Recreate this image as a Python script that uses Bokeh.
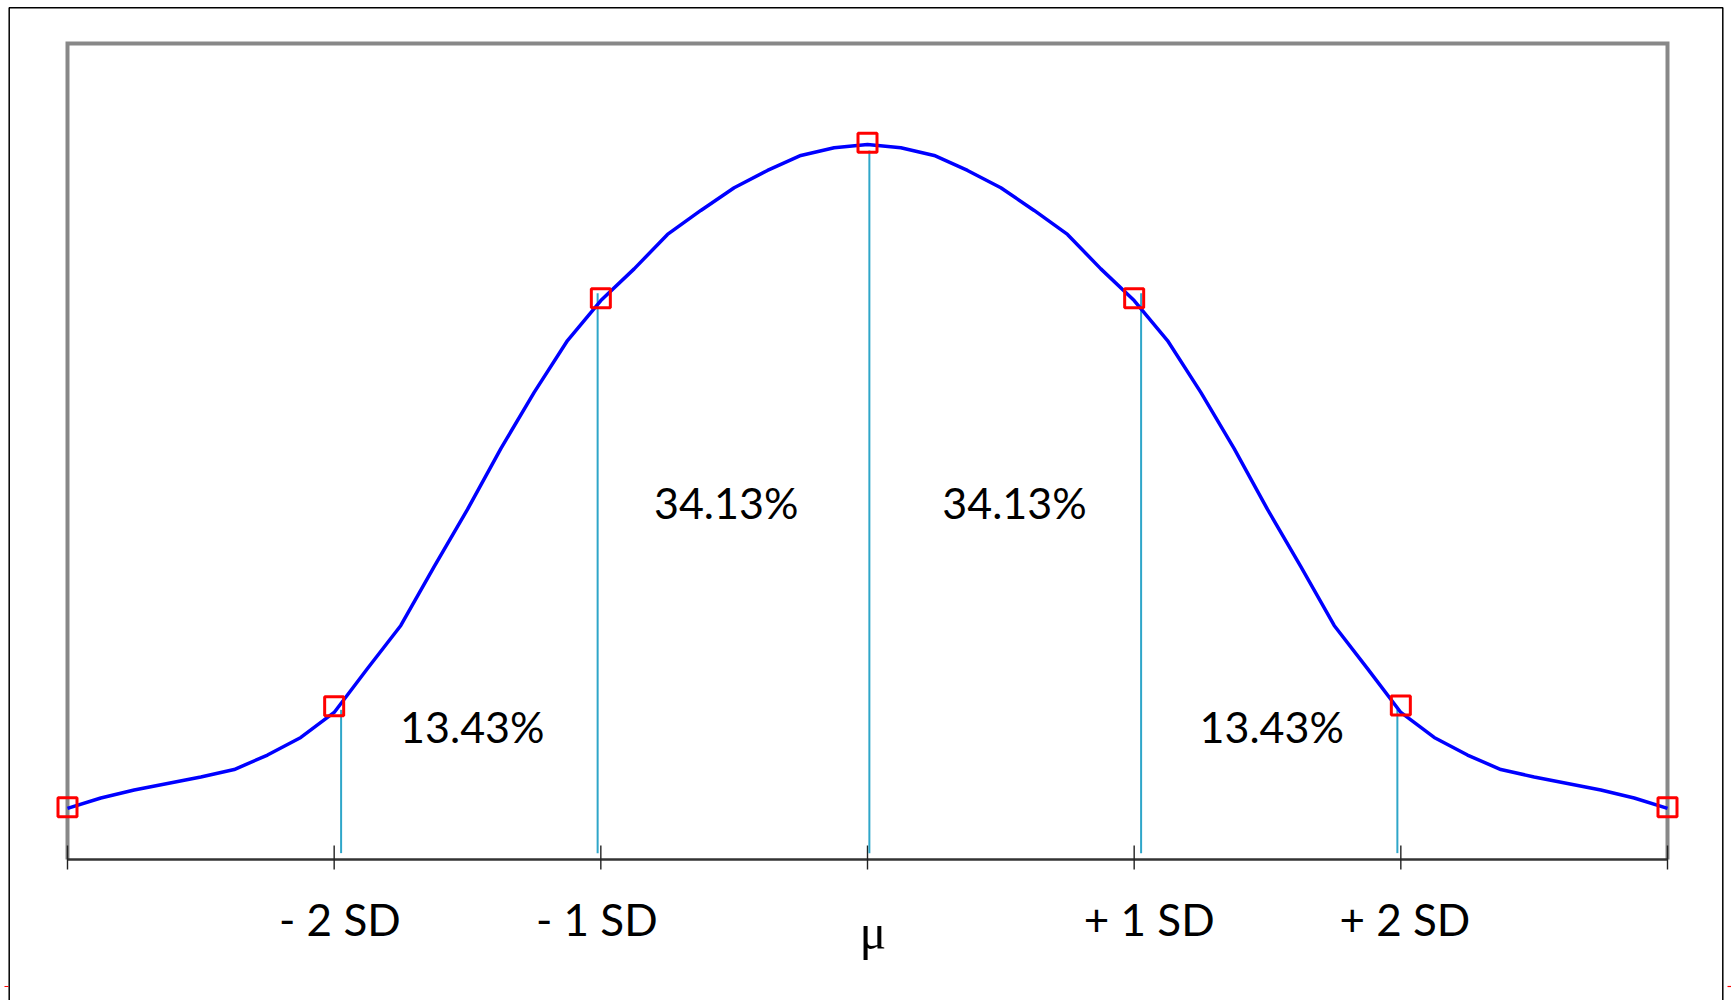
from bokeh.plotting import figure
from bokeh.models import Range1d, ColumnDataSource
from bokeh.core.properties import value
from bokeh.embed import file_html
from bokeh.resources import INLINE

# ---------------- data ----------------
sd_positions = [-3, -2, -1, 0, 1, 2, 3]
tick_labels = ["", "- 2 SD", "- 1 SD", "\u03bc", "+ 1 SD", "+ 2 SD", ""]

curve_x = [-3.0, -2.875, -2.75, -2.625, -2.5, -2.375, -2.25, -2.125,
           -2.0, -1.875, -1.75, -1.625, -1.5, -1.375, -1.25, -1.125,
           -1.0, -0.875, -0.75, -0.625, -0.5, -0.375, -0.25, -0.125,
           0.0, 0.125, 0.25, 0.375, 0.5, 0.625, 0.75, 0.875,
           1.0, 1.125, 1.25, 1.375, 1.5, 1.625, 1.75, 1.875,
           2.0, 2.125, 2.25, 2.375, 2.5, 2.625, 2.75, 2.875, 3.0]
curve_y = [0.0313, 0.0377, 0.0426, 0.0466, 0.0506, 0.0551, 0.0640, 0.0748,
           0.0901, 0.1170, 0.1434, 0.1795, 0.2145, 0.2518, 0.2862, 0.3180,
           0.3425, 0.3619, 0.3830, 0.3977, 0.4116, 0.4222, 0.4314, 0.4361,
           0.4381, 0.4361, 0.4314, 0.4222, 0.4116, 0.3977, 0.3830, 0.3619,
           0.3425, 0.3180, 0.2862, 0.2518, 0.2145, 0.1795, 0.1434, 0.1170,
           0.0901, 0.0748, 0.0640, 0.0551, 0.0506, 0.0466, 0.0426, 0.0377, 0.0313]

marker_y = [0.0320, 0.0939, 0.3439, 0.4392, 0.3439, 0.0944, 0.0320]

divider_x = [-1.974, -1.012, 0.007, 1.026, 1.987]
divider_top = [0.0917, 0.3470, 0.4344, 0.3470, 0.0919]
divider_bottom = 0.0039

region_labels = ["13.43%", "34.13%", "34.13%", "13.43%"]
region_label_x = [-1.482, -0.530, 0.551, 1.516]
region_label_y = [0.0714, 0.2088, 0.2088, 0.0714]

y_top = 0.5

# ---------------- layout ----------------
W, H = 1731, 1000
X_PX = 266.667     # px per x unit
Y_PX = 1632.0      # px per y unit
AXIS_PX_X0 = 67    # page x of x = -3
AXIS_PX_Y = 859    # page y of y = 0
x_start = -3 - AXIS_PX_X0 / X_PX
x_end = x_start + W / X_PX
y_end = AXIS_PX_Y / Y_PX
y_start = y_end - H / Y_PX
TEXT_SHIFT = 16    # rendered baseline sits this many px lower than requested


def px_x(px):
    return x_start + px / X_PX


def px_y(py):
    return y_end - py / Y_PX


p = figure(width=W, height=H, output_backend="svg", toolbar_location=None,
           x_range=Range1d(x_start, x_end), y_range=Range1d(y_start, y_end),
           x_axis_location=None, y_axis_location=None, title=None)
p.min_border = 0
p.min_border_left = 0
p.min_border_right = 0
p.min_border_top = 0
p.min_border_bottom = 0
p.grid.visible = False
p.outline_line_color = None
p.background_fill_color = "white"
p.border_fill_color = "white"

# outer black border (left, top, right)
bl, br, bt = px_x(8.7), px_x(1722.3), px_y(7.3)
p.line([bl, bl, br, br], [y_start, bt, bt, y_start], line_color="black", line_width=1.5)
# small red marks at the page edges
p.segment(x0=[px_x(4), px_x(1727)], y0=[px_y(986)] * 2, x1=[px_x(8), px_x(1731)],
          y1=[px_y(986)] * 2, line_color="#ff0000", line_width=1.2)

# gray plot frame
x0, x1 = sd_positions[0], sd_positions[-1]
p.line([x0, x0, x1, x1], [0, y_top, y_top, 0], line_color="#888888", line_width=4,
       line_join="miter")

# axis line and ticks
p.line([x0, x1], [0, 0], line_color="#333333", line_width=2.5)
p.segment(x0=sd_positions, y0=[14 / Y_PX] * len(sd_positions),
          x1=sd_positions, y1=[-10 / Y_PX] * len(sd_positions),
          line_color="#222222", line_width=1.4)

# tick labels
lab_idx = [i for i, t in enumerate(tick_labels) if t and t != "\u03bc"]
sd_src = ColumnDataSource(dict(
    x=[sd_positions[i] for i in lab_idx],
    y=[-(75 - TEXT_SHIFT) / Y_PX] * len(lab_idx),
    text=[tick_labels[i] for i in lab_idx],
    dx=[5.7, -4.0, 15.0, 4.0],
))
p.text(x="x", y="y", text="text", x_offset="dx", source=sd_src,
       text_font=value("Lato"), text_font_size="44px", text_color="black",
       text_align="center", text_baseline="alphabetic")
mu_i = tick_labels.index("\u03bc")
p.text(x=[sd_positions[mu_i]], y=[-(88 - TEXT_SHIFT) / Y_PX], text=[tick_labels[mu_i]],
       x_offset=5.5, text_font=value("Liberation Serif"), text_font_size="50px",
       text_color="black", text_align="center", text_baseline="alphabetic")

# divider lines
p.segment(x0=divider_x, y0=[divider_bottom] * len(divider_x), x1=divider_x, y1=divider_top,
          line_color="#2fa6c9", line_width=2)

# curve
p.line(curve_x, curve_y, line_color="#0000ff", line_width=3.5, line_join="round")

# SD markers
p.scatter(sd_positions, marker_y, marker="square", size=19, fill_color=None,
          line_color="#ff0000", line_width=3)

# region percentages
p.text(x=region_label_x, y=[v + TEXT_SHIFT / Y_PX for v in region_label_y],
       text=region_labels, text_font=value("Lato"), text_font_size="43px",
       text_color="black", text_align="center", text_baseline="alphabetic")

open("out.html", "w").write(file_html(p, INLINE))
